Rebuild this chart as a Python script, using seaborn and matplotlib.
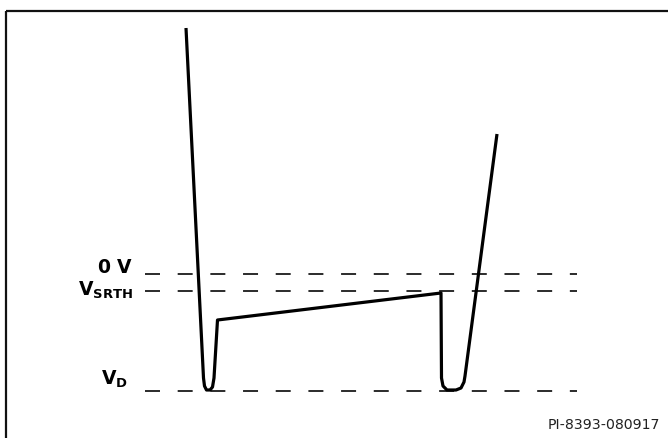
import matplotlib
matplotlib.use("Agg")
import matplotlib.pyplot as plt
import seaborn as sns
import pandas as pd

# ---- data (schematic waveform, drawing units: x to the right, y downward) ----
wave_x = [186, 203.5, 204.5, 206.5, 210, 212.5, 214, 217.5,
          441, 441.5, 443, 447, 456, 461, 464, 465, 497]
wave_y = [28, 378, 386, 390, 390, 387, 378, 320,
          293, 378, 386, 390, 390, 388, 382, 376, 134]

level_names = ["0 V", "V_SRTH", "V_D"]
level_y = [274, 291, 390.5]
level_labels = [r"$\mathbf{0\ V}$", r"$\mathbf{V_{SRTH}}$", r"$\mathbf{V_{D}}$"]
label_baseline = [273, 296, 385]
label_right = [133, 133, 128]
level_x_start = 145
level_x_end = 577

footer_text = "PI-8393-080917"

# ---- figure ----
sns.set_theme(style="white")
plt.rcParams["font.family"] = ["DejaVu Sans"]
plt.rcParams["mathtext.fontset"] = "dejavusans"

W, H = 668, 438
fig = plt.figure(figsize=(W / 100, H / 100), dpi=100)
ax = fig.add_axes([0, 0, 1, 1])

# frame (left and top only visible)
ax.plot([6, 6], [H + 5, 11], color="#111111", lw=1.6, solid_capstyle="projecting")
ax.plot([6, W + 5], [11, 11], color="#111111", lw=1.6, solid_capstyle="projecting")

# reference levels
for yv in level_y:
    ax.hlines(yv, level_x_start, level_x_end, colors="#1a1a1a", lw=1.3,
              linestyles=(0, (8.3, 9.8)))

# waveform
df = pd.DataFrame({"x": wave_x, "y": wave_y})
sns.lineplot(data=df, x="x", y="y", sort=False, estimator=None, ax=ax,
             color="black", lw=2.3)
for ln in ax.get_lines():
    ln.set_solid_joinstyle("round")
    ln.set_solid_capstyle("butt")
ax.set_xlim(0, W)
ax.set_ylim(H, 0)
ax.axis("off")

# labels
for lab, yb, right in zip(level_labels, label_baseline, label_right):
    ax.text(right, yb, lab, ha="right", va="baseline", fontsize=13.5,
            color="black")

ax.text(660, 429, footer_text, ha="right", va="baseline", fontsize=10.2,
        color="#222222")

fig.savefig("out.png", dpi=100)
